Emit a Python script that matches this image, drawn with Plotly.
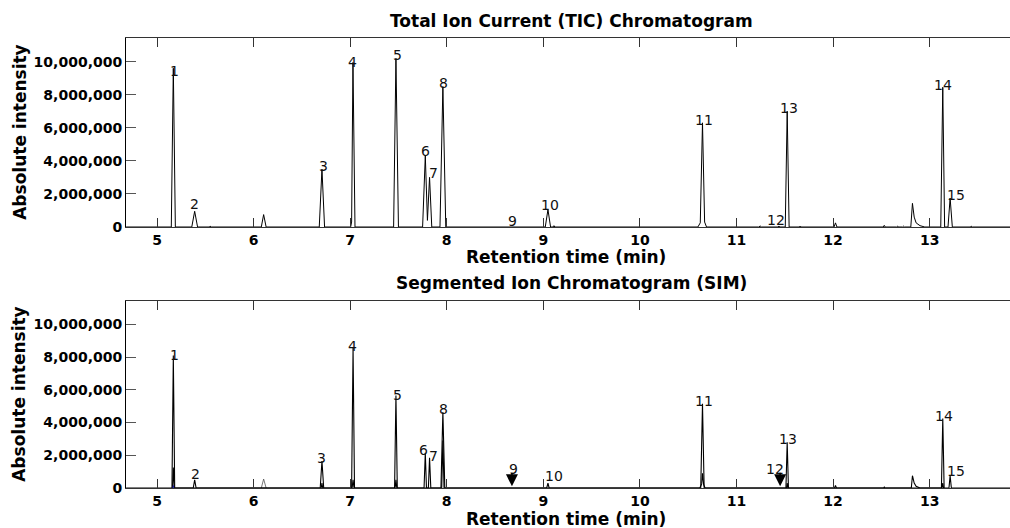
import plotly.graph_objects as go

# ---------------- data ----------------
# TIC trace: retention time (min) and absolute intensity
tic_time = [4.68,
            5.148, 5.169, 5.19,
            5.36, 5.39, 5.42,
            5.54, 5.55, 5.56,
            6.08, 6.104, 6.13,
            6.68, 6.708, 6.735,
            7.005, 7.015, 7.029, 7.05,
            7.45, 7.474, 7.5,
            7.75, 7.778, 7.8, 7.822, 7.845,
            7.93, 7.96, 7.99,
            9.02, 9.048, 9.075, 9.1, 9.11, 9.12,
            10.6, 10.625, 10.648, 10.67, 10.69,
            11.23, 11.245, 11.26,
            11.43, 11.44, 11.45,
            11.505, 11.525, 11.545,
            11.65, 11.66, 11.67,
            12.01, 12.025, 12.04,
            12.52, 12.53, 12.54,
            12.66, 12.67, 12.68,
            12.72, 12.73, 12.74,
            12.805, 12.822, 12.84, 12.86, 12.9, 12.95,
            13.115, 13.136, 13.155,
            13.19, 13.212, 13.235,
            13.42, 13.43, 13.44,
            13.84]
tic_intensity = [0,
                 0, 9.6e6, 0,
                 0, 0.95e6, 0,
                 0, 0.05e6, 0,
                 0, 0.75e6, 0,
                 0, 3.5e6, 0,
                 0, 0.3e6, 9.95e6, 0,
                 0, 10.2e6, 0,
                 0, 4.3e6, 0.4e6, 3.0e6, 0,
                 0, 8.5e6, 0,
                 0, 1.05e6, 0, 0, 0.08e6, 0,
                 0, 0.25e6, 6.3e6, 0.3e6, 0,
                 0, 0.06e6, 0,
                 0, 0.05e6, 0,
                 0, 7.0e6, 0,
                 0, 0.06e6, 0,
                 0, 0.25e6, 0,
                 0, 0.1e6, 0,
                 0, 0.05e6, 0,
                 0, 0.05e6, 0,
                 0, 1.43e6, 0.6e6, 0.25e6, 0.08e6, 0,
                 0, 8.45e6, 0,
                 0, 1.75e6, 0,
                 0, 0.05e6, 0,
                 0]

# SIM main ion trace
sim_time = [4.68,
            5.155, 5.169, 5.183,
            5.375, 5.39, 5.405,
            6.69, 6.708, 6.726,
            7.015, 7.03, 7.045,
            7.46, 7.474, 7.488,
            7.765, 7.778, 7.79,
            7.81, 7.822, 7.835,
            7.94, 7.96, 7.98,
            9.035, 9.048, 9.06,
            10.63, 10.648, 10.665,
            11.512, 11.525, 11.538,
            12.015, 12.025, 12.035,
            12.525, 12.53, 12.535,
            12.81, 12.822, 12.84, 12.86, 12.9,
            13.122, 13.136, 13.15,
            13.2, 13.212, 13.225,
            13.84]
sim_intensity = [0,
                 0, 8.1e6, 0,
                 0, 0.5e6, 0,
                 0, 1.65e6, 0,
                 0, 8.55e6, 0,
                 0, 5.65e6, 0,
                 0, 2.15e6, 0,
                 0, 1.85e6, 0,
                 0, 4.65e6, 0,
                 0, 0.3e6, 0,
                 0, 5.15e6, 0,
                 0, 2.8e6, 0,
                 0, 0.15e6, 0,
                 0, 0.05e6, 0,
                 0, 0.75e6, 0.3e6, 0.1e6, 0,
                 0, 4.25e6, 0,
                 0, 0.75e6, 0,
                 0]

# SIM secondary (qualifier) ion trace
sim2_time = [5.16, 5.169, 5.178,
             6.7, 6.708, 6.716,
             7.02, 7.03, 7.04,
             7.465, 7.474, 7.483,
             7.948, 7.96, 7.972,
             10.62, 10.64, 10.648, 10.66, 10.675,
             11.518, 11.525, 11.532,
             13.128, 13.136, 13.144]
sim2_intensity = [0, 1.25e6, 0,
                  0, 0.3e6, 0,
                  0, 0.5e6, 0,
                  0, 0.5e6, 0,
                  0, 2.9e6, 0,
                  0, 0.25e6, 0.9e6, 0.2e6, 0,
                  0, 0.3e6, 0,
                  0, 0.3e6, 0]

# SIM unsegmented background peak (grey)
sim3_time = [6.08, 6.104, 6.13]
sim3_intensity = [0, 0.55e6, 0]

# SIM third ion (blue, tiny)
sim4_time = [5.165, 5.169, 5.173]
sim4_intensity = [0, 0.15e6, 0]

# peak numbers and label positions
peak_labels = [str(i) for i in range(1, 16)]
tic_label_time = [5.179, 5.389, 6.719, 7.025, 7.485, 7.778, 7.864, 7.968,
                  8.676, 9.073, 10.667, 11.413, 11.54, 13.139, 13.273]
tic_label_int = [9.44e6, 1.39e6, 3.71e6, 10.0e6, 10.41e6, 4.6e6, 3.25e6, 8.69e6,
                 0.36e6, 1.33e6, 6.47e6, 0.42e6, 7.22e6, 8.59e6, 1.94e6]
sim_label_time = [5.179, 5.397, 6.708, 7.029, 7.485, 7.761, 7.864, 7.968,
                  8.686, 9.106, 10.660, 11.403, 11.534, 13.152, 13.273]
sim_label_int = [8.12e6, 0.87e6, 1.83e6, 8.65e6, 5.7e6, 2.3e6, 1.97e6, 4.83e6,
                 1.16e6, 0.75e6, 5.33e6, 1.18e6, 3.01e6, 4.43e6, 1.01e6]
# arrows marking peaks 9 and 12 in SIM
arrow_time = [8.675, 11.452]
arrow_int = [0.1e6, 0.1e6]

y_ticks = [0, 2e6, 4e6, 6e6, 8e6, 10e6]
x_ticks = [5, 6, 7, 8, 9, 10, 11, 12, 13]

# ---------------- figure ----------------
FONT = "DejaVu Sans"
fig = go.Figure()
fig.add_trace(go.Scatter(x=tic_time, y=tic_intensity, mode="lines",
                         line=dict(color="black", width=1), xaxis="x", yaxis="y",
                         showlegend=False, hoverinfo="x+y"))
fig.add_trace(go.Scatter(x=sim3_time, y=sim3_intensity, mode="lines",
                         line=dict(color="#555555", width=0.8), xaxis="x2", yaxis="y2",
                         showlegend=False))
fig.add_trace(go.Scatter(x=sim_time, y=sim_intensity, mode="lines",
                         line=dict(color="black", width=1.1), xaxis="x2", yaxis="y2",
                         showlegend=False))
fig.add_trace(go.Scatter(x=sim2_time, y=sim2_intensity, mode="lines",
                         line=dict(color="black", width=1.1), xaxis="x2", yaxis="y2",
                         showlegend=False))
fig.add_trace(go.Scatter(x=sim4_time, y=sim4_intensity, mode="lines",
                         line=dict(color="#1f1fa0", width=1), xaxis="x2", yaxis="y2",
                         showlegend=False))

xr = [4.679, 13.832]
yr = [0, 11.43e6]
common_x = dict(range=xr, tickvals=x_ticks, ticks="inside", ticklen=9, tickwidth=1,
                tickcolor="#333333", showline=True, linecolor="#333333", linewidth=1,
                mirror="ticks", showgrid=False, zeroline=False, automargin=False,
                tickfont=dict(family=FONT, size=14, color="black", weight="bold"))
common_y = dict(range=yr, tickvals=y_ticks, tickformat=",d", ticks="inside", ticklen=10,
                tickwidth=1, tickcolor="#555555", showline=True, linecolor="black",
                linewidth=1, showgrid=False, zeroline=True, zerolinecolor="black",
                zerolinewidth=2.5, automargin=False,
                tickfont=dict(family=FONT, size=14, color="black", weight="bold"))

fig.update_layout(
    width=1010, height=528,
    margin=dict(l=126, r=0, t=38, b=40, autoexpand=False),
    paper_bgcolor="white", plot_bgcolor="white",
    xaxis=dict(domain=[0, 1], anchor="y", **common_x),
    yaxis=dict(domain=[0.58, 1], anchor="x", **common_y),
    xaxis2=dict(domain=[0, 1], anchor="y2", **common_x),
    yaxis2=dict(domain=[0, 0.4156], anchor="x2", **common_y),
    showlegend=False,
)

ann = []
title_font = dict(family=FONT, size=17, color="black", weight="bold")
for txt, x, y in [("Total Ion Current (TIC) Chromatogram", 0.5034, 1.0367),
                  ("Retention time (min)", 0.4983, 0.5133),
                  ("Segmented Ion Chromatogram (SIM)", 0.5042, 0.4556),
                  ("Retention time (min)", 0.4983, -0.0689)]:
    ann.append(dict(text=txt, x=x, y=y, xref="paper", yref="paper", showarrow=False,
                    xanchor="center", yanchor="middle", font=title_font))
for y in [0.79, 0.2078]:
    ann.append(dict(text="Absolute intensity", x=-0.1207, y=y, xref="paper", yref="paper",
                    showarrow=False, textangle=-90, xanchor="center", yanchor="middle",
                    font=title_font))

label_font = dict(family=FONT, size=14, color="#111111")
for lab, t, v in zip(peak_labels, tic_label_time, tic_label_int):
    ann.append(dict(text=lab, x=t, y=v, xref="x", yref="y", showarrow=False,
                    xanchor="center", yanchor="middle", font=label_font))
for lab, t, v in zip(peak_labels, sim_label_time, sim_label_int):
    ann.append(dict(text=lab, x=t, y=v, xref="x2", yref="y2", showarrow=False,
                    xanchor="center", yanchor="middle", font=label_font))
for t, v in zip(arrow_time, arrow_int):
    ann.append(dict(text="", x=t, y=v, xref="x2", yref="y2", showarrow=True,
                    ax=0, ay=-15, arrowhead=2, arrowsize=1.6, arrowwidth=1.5,
                    arrowcolor="black"))
fig.update_layout(annotations=ann)

fig.write_html("out.html", config={"displayModeBar": False},
               post_script="document.body.style.margin='0';"
                           "document.body.style.overflow='hidden';")
